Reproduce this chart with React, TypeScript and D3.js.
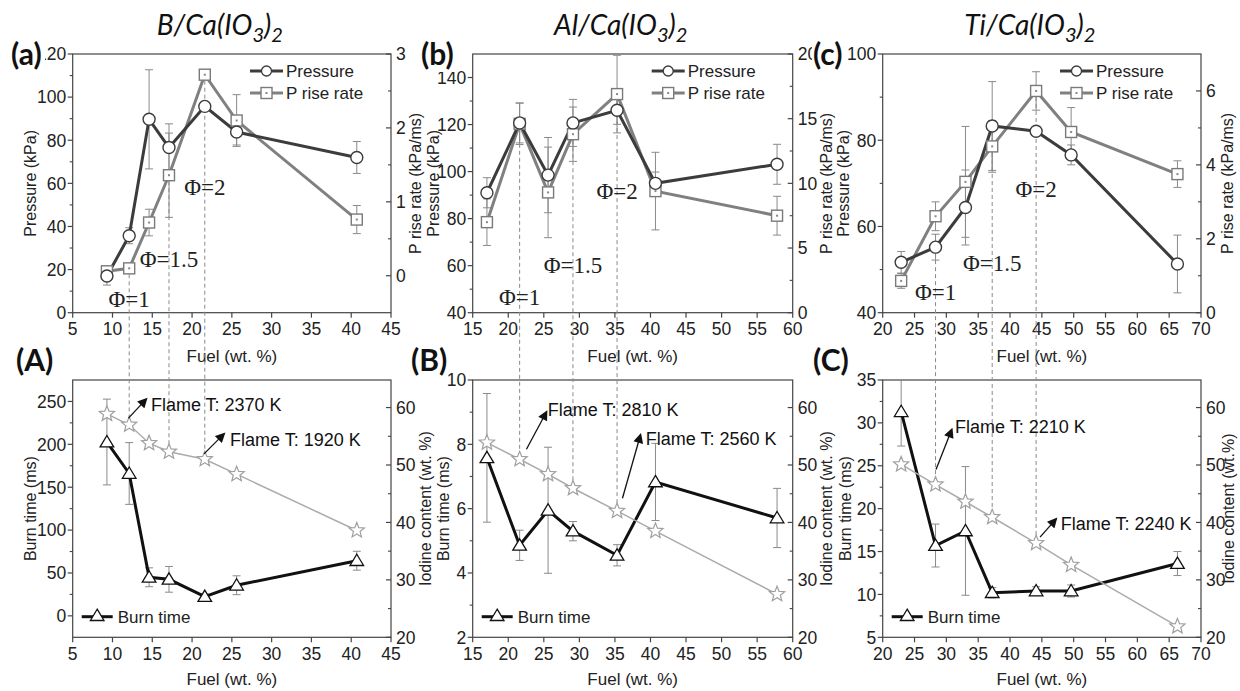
import React from "react";
import * as d3 from "d3";

// ---------------- DATA ----------------
// B/Ca(IO3)2
const bFuel = [9.3, 12.1, 14.6, 17.1, 21.6, 25.6, 40.7];
const bPressure = [17, 35.7, 89.7, 76.6, 95.7, 83.8, 72];
const bPressureErr = [4.2, 3.7, 23, 11, 2, 6, 7.4];
const bRate = [0.06, 0.1, 0.72, 1.36, 2.72, 2.1, 0.76];
const bRateErr = [0.05, 0.05, 0.18, 0.57, 0.03, 0.35, 0.19];
const bBurn = [202.7, 166, 45, 42.6, 22.5, 35.7, 64.3];
const bBurnErr = [50, 36, 11, 15, 3, 11, 11];
const bIodine = [58.9, 57.0, 53.8, 52.3, 51.0, 48.4, 38.6];

// Al/Ca(IO3)2
const alFuel = [17, 21.6, 25.6, 29.1, 35.3, 40.7, 57.8];
const alPressure = [91, 120.7, 98.5, 120.7, 126.1, 95, 103.1];
const alPressureErr = [6.4, 8.5, 16, 10, 6, 4.8, 8.5];
const alRate = [7.0, 14.6, 9.3, 13.8, 16.9, 9.4, 7.5];
const alRateErr = [1.8, 1.6, 3.5, 2.1, 3, 3, 1.5];
const alBurn = [7.58, 4.86, 5.95, 5.3, 4.55, 6.83, 5.71];
const alBurnErr = [2, 0.47, 1.96, 0.3, 0.33, 1.2, 0.92];
const alIodine = [53.9, 51.0, 48.4, 45.95, 42.0, 38.5, 27.5];

// Ti/Ca(IO3)2
const tiFuel = [22.9, 28.3, 33.0, 37.2, 44.1, 49.6, 66.3];
const tiPressure = [51.7, 55.2, 64.4, 83.3, 82.1, 76.6, 51.3];
const tiPressureErr = [2.5, 3, 8.7, 10.3, 1, 2.3, 6.7];
const tiRate = [0.86, 2.61, 3.54, 4.5, 6.0, 4.89, 3.75];
const tiRateErr = [0.2, 0.39, 1.5, 0.7, 0.52, 0.66, 0.36];
const tiBurn = [31.3, 15.7, 17.4, 10.2, 10.4, 10.4, 13.6];
const tiBurnErr = [4, 2.5, 7.5, 0.6, 0.5, 0.7, 1.4];
const tiIodine = [50.1, 46.6, 43.6, 40.9, 36.4, 32.6, 21.9];

// Equivalence-ratio markers (fuel wt.% of the dashed guide lines)
const bPhi = [
  { fuel: 12.1, label: "Φ=1", from: "rate", labelP: 2.6 },
  { fuel: 17.1, label: "Φ=1.5", from: "rate", labelP: 21.1 },
  { fuel: 21.6, label: "Φ=2", from: "rate", labelP: 54.8 },
];
const alPhi = [
  { fuel: 21.6, label: "Φ=1", from: "rate", labelP: 43.3 },
  { fuel: 29.1, label: "Φ=1.5", from: "rate", labelP: 56.9 },
  { fuel: 35.3, label: "Φ=2", from: "rate", labelP: 88.3 },
];
const tiPhi = [
  { fuel: 28.3, label: "Φ=1", from: "pressure", labelP: 42.9 },
  { fuel: 37.2, label: "Φ=1.5", from: "pressure", labelP: 49.7 },
  { fuel: 44.1, label: "Φ=2", from: "rate", labelP: 66.9 },
];

// Flame temperature annotations (attached to iodine points)
const bFlames = [
  { idx: 1, text: "Flame T: 2370 K", s: [-0.7, -6.7], t: [17, -25.7], l: [21.7, -20] },
  { idx: 4, text: "Flame T: 1920 K", s: [-0.8, -5.4], t: [19.2, -25.4], l: [25.2, -19.7] },
];
const alFlames = [
  { idx: 1, text: "Flame T: 2810 K", s: [6.8, -10], t: [26.8, -47.3], l: [28.1, -50] },
  { idx: 4, text: "Flame T: 2560 K", s: [5.4, -12.7], t: [23.4, -76], l: [28.7, -72] },
];
const tiFlames = [
  { idx: 1, text: "Flame T: 2210 K", s: [0.5, -15], t: [16.2, -55], l: [19.5, -58] },
  { idx: 4, text: "Flame T: 2240 K", s: [3.9, -6], t: [19.9, -24], l: [24.6, -19.3] },
];

// ---------------- LAYOUT ----------------
const W = 1240;
const H = 691;
const TOP = { y0: 54, y1: 312.7 };
const BOT = { y0: 380, y1: 637.3 };
const FONT = "'Liberation Sans', Arial, Helvetica, sans-serif";
const TICK_FS = 17.5;
const FRAME = "#444";

const systems = [
  {
    el: "B", labels: ["(a)", "(A)"], x0: 72.7, x1: 391,
    fuel: bFuel, pressure: bPressure, pressureErr: bPressureErr, rate: bRate, rateErr: bRateErr,
    burn: bBurn, burnErr: bBurnErr, iodine: bIodine, phi: bPhi, flames: bFlames,
    xDomain: [5, 45], xTicks: d3.range(5, 46, 5),
    pDomain: [0, 120], pTicks: d3.range(0, 121, 20), pMinor: d3.range(10, 120, 20),
    rDomain: [-0.5, 3], rTicks: [0, 1, 2, 3], rMinor: [0.5, 1.5, 2.5],
    bDomain: [-25, 275], bTicks: d3.range(0, 251, 50), bMinor: d3.range(25, 275, 50),
    topL: 42.7, topR: 24, botL: 42.7, botR: 34, iodineTitle: "Iodine content (wt. %)",
  },
  {
    el: "Al", labels: ["(b)", "(B)"], x0: 472.7, x1: 792.7,
    fuel: alFuel, pressure: alPressure, pressureErr: alPressureErr, rate: alRate, rateErr: alRateErr,
    burn: alBurn, burnErr: alBurnErr, iodine: alIodine, phi: alPhi, flames: alFlames,
    xDomain: [15, 60], xTicks: d3.range(15, 61, 5),
    pDomain: [40, 150], pTicks: d3.range(40, 141, 20), pMinor: d3.range(50, 150, 20),
    rDomain: [0, 20], rTicks: [0, 5, 10, 15, 20], rMinor: [2.5, 7.5, 12.5, 17.5],
    bDomain: [2, 10], bTicks: [2, 4, 6, 8, 10], bMinor: [3, 5, 7, 9],
    topL: 39.7, topR: 34, botL: 29, botR: 34, iodineTitle: "Iodine content (wt. %)",
  },
  {
    el: "Ti", labels: ["(c)", "(C)"], x0: 882.7, x1: 1201,
    fuel: tiFuel, pressure: tiPressure, pressureErr: tiPressureErr, rate: tiRate, rateErr: tiRateErr,
    burn: tiBurn, burnErr: tiBurnErr, iodine: tiIodine, phi: tiPhi, flames: tiFlames,
    xDomain: [20, 70], xTicks: d3.range(20, 71, 5),
    pDomain: [40, 100], pTicks: [40, 60, 80, 100], pMinor: [50, 70, 90],
    rDomain: [0, 7], rTicks: [0, 2, 4, 6], rMinor: [1, 3, 5],
    bDomain: [5, 35], bTicks: d3.range(5, 36, 5), bMinor: d3.range(7.5, 35, 5),
    topL: 39.4, topR: 26, botL: 37.7, botR: 27, iodineTitle: "Iodine content (wt.%)",
  },
];

const iDomain = [20, 64.8];
const iTicks = [20, 30, 40, 50, 60];
const iMinor = [25, 35, 45, 55];

// ---------------- HELPERS ----------------
function starPath(R: number, r: number) {
  let d = "";
  for (let i = 0; i < 10; i++) {
    const a = -Math.PI / 2 + (i * Math.PI) / 5;
    const rad = i % 2 === 0 ? R : r;
    d += (i === 0 ? "M" : "L") + (rad * Math.cos(a)).toFixed(2) + "," + (rad * Math.sin(a)).toFixed(2);
  }
  return d + "Z";
}
const STAR = starPath(8, 3.5);
const TRI = "M0,-6.5L6.8,4.8L-6.8,4.8Z";

function YAxis({ scale, x, side, ticks, minor }: any) {
  // left axis: ticks outward; right axis: ticks inward
  const labDir = side === "left" ? -1 : 1;
  const tickDir = -1;
  const labOff = side === "left" ? 6.5 : 5;
  return (
    <g>
      {ticks.map((t: number) => (
        <g key={"M" + t}>
          <line x1={x} x2={x + tickDir * 5} y1={scale(t)} y2={scale(t)} stroke={FRAME} strokeWidth={1.2} />
          <text
            x={x + labDir * labOff}
            y={scale(t)}
            dy="0.36em"
            textAnchor={side === "left" ? "end" : "start"}
            fontSize={TICK_FS}
            fill="#222"
          >
            {t}
          </text>
        </g>
      ))}
      {minor.map((t: number) => (
        <line key={"m" + t} x1={x} x2={x + tickDir * 3} y1={scale(t)} y2={scale(t)} stroke={FRAME} strokeWidth={1.1} />
      ))}
    </g>
  );
}

function XAxis({ scale, y, ticks }: any) {
  return (
    <g>
      {ticks.map((t: number) => (
        <g key={t}>
          <line x1={scale(t)} x2={scale(t)} y1={y} y2={y + 5} stroke={FRAME} strokeWidth={1.2} />
          <text x={scale(t)} y={y + 22.5} textAnchor="middle" fontSize={TICK_FS} fill="#222">
            {t}
          </text>
        </g>
      ))}
    </g>
  );
}

function ErrBars({ xs, ys, es, x, y, color, clip }: any) {
  return (
    <g stroke={color} strokeWidth={1} clipPath={clip}>
      {xs.map((xv: number, i: number) => {
        const cx = x(xv);
        const yt = y(ys[i] + es[i]);
        const yb = y(ys[i] - es[i]);
        return (
          <g key={i}>
            <line x1={cx} x2={cx} y1={yt} y2={yb} />
            <line x1={cx - 4} x2={cx + 4} y1={yt} y2={yt} />
            <line x1={cx - 4} x2={cx + 4} y1={yb} y2={yb} />
          </g>
        );
      })}
    </g>
  );
}

function SquareMark({ cx, cy }: any) {
  return (
    <g>
      <rect x={cx - 5.5} y={cy - 5.5} width={11} height={11} fill="#fff" stroke="#7a7a7a" strokeWidth={1.4} />
      <rect x={cx - 1} y={cy - 1} width={2} height={2} fill="#888" />
    </g>
  );
}

function Title({ el, cx }: { el: string; cx: number }) {
  return (
    <text x={cx} y={35} textAnchor="middle" fontFamily="Lato, 'Open Sans', sans-serif" fontStyle="italic" fontSize={28} fill="#111">
      <tspan>{el}/Ca(IO</tspan>
      <tspan dy={7} fontSize={20}>3</tspan>
      <tspan dy={-7}>)</tspan>
      <tspan dy={7} fontSize={20}>2</tspan>
    </text>
  );
}

function PanelLabel({ text, x, y }: any) {
  return (
    <g>
      <rect x={x - 1} y={y - 23} width={35} height={30} fill="#fff" />
      <text x={x} y={y} fontFamily="Lato, 'Open Sans', sans-serif" fontWeight="bold" fontSize={30} fill="#111">
        {text}
      </text>
    </g>
  );
}

function System({ s, i }: any) {
  const x = d3.scaleLinear().domain(s.xDomain).range([s.x0, s.x1]);
  const yP = d3.scaleLinear().domain(s.pDomain).range([TOP.y1, TOP.y0]);
  const yR = d3.scaleLinear().domain(s.rDomain).range([TOP.y1, TOP.y0]);
  const yB = d3.scaleLinear().domain(s.bDomain).range([BOT.y1, BOT.y0]);
  const yI = d3.scaleLinear().domain(iDomain).range([BOT.y1, BOT.y0]);
  const idx = d3.range(s.fuel.length);

  const pLine = d3.line<number>().x((k) => x(s.fuel[k])).y((k) => yP(s.pressure[k]));
  const rLine = d3.line<number>().x((k) => x(s.fuel[k])).y((k) => yR(s.rate[k]));
  const bLine = d3.line<number>().x((k) => x(s.fuel[k])).y((k) => yB(s.burn[k]));
  const iLine = d3.line<number>().x((k) => x(s.fuel[k])).y((k) => yI(s.iodine[k]));

  const cxMid = (s.x0 + s.x1) / 2;
  const topMid = (TOP.y0 + TOP.y1) / 2;
  const botMid = (BOT.y0 + BOT.y1) / 2;
  const clipTop = `clipTop${i}`;
  const clipBot = `clipBot${i}`;

  const valueAt = (xs: number[], ys: number[], v: number) => ys[xs.indexOf(v)];

  return (
    <g>
      <defs>
        <clipPath id={clipTop}>
          <rect x={s.x0} y={TOP.y0} width={s.x1 - s.x0} height={TOP.y1 - TOP.y0} />
        </clipPath>
        <clipPath id={clipBot}>
          <rect x={s.x0} y={BOT.y0} width={s.x1 - s.x0} height={BOT.y1 - BOT.y0} />
        </clipPath>
      </defs>

      <Title el={s.el} cx={cxMid - 12} />

      {/* ---------- TOP PANEL ---------- */}
      <rect x={s.x0} y={TOP.y0} width={s.x1 - s.x0} height={TOP.y1 - TOP.y0} fill="none" stroke={FRAME} strokeWidth={1.2} />
      <YAxis scale={yP} x={s.x0} side="left" ticks={s.pTicks} minor={s.pMinor} />
      <YAxis scale={yR} x={s.x1} side="right" ticks={s.rTicks} minor={s.rMinor} />
      <XAxis scale={x} y={TOP.y1} ticks={s.xTicks} />
      <text transform={`translate(${s.x0 - s.topL},${topMid}) rotate(-90)`} dy="0.35em" textAnchor="middle" fontSize={16} fill="#222">
        Pressure (kPa)
      </text>
      <text transform={`translate(${s.x1 + s.topR},${topMid}) rotate(-90)`} dy="0.35em" textAnchor="middle" fontSize={16} fill="#222">
        P rise rate (kPa/ms)
      </text>
      <text x={cxMid} y={TOP.y1 + 49} textAnchor="middle" fontSize={17} fill="#222">
        Fuel (wt. %)
      </text>

      <ErrBars xs={s.fuel} ys={s.rate} es={s.rateErr} x={x} y={yR} color="#8a8a8a" clip={`url(#${clipTop})`} />
      <ErrBars xs={s.fuel} ys={s.pressure} es={s.pressureErr} x={x} y={yP} color="#8a8a8a" clip={`url(#${clipTop})`} />
      <path d={rLine(idx) || ""} fill="none" stroke="#808080" strokeWidth={3} />
      <path d={pLine(idx) || ""} fill="none" stroke="#3c3c3c" strokeWidth={3} />

      {/* ---------- BOTTOM PANEL ---------- */}
      <rect x={s.x0} y={BOT.y0} width={s.x1 - s.x0} height={BOT.y1 - BOT.y0} fill="none" stroke={FRAME} strokeWidth={1.2} />
      <YAxis scale={yB} x={s.x0} side="left" ticks={s.bTicks} minor={s.bMinor} />
      <YAxis scale={yI} x={s.x1} side="right" ticks={iTicks} minor={iMinor} />
      <XAxis scale={x} y={BOT.y1} ticks={s.xTicks} />
      <text transform={`translate(${s.x0 - s.botL},${botMid}) rotate(-90)`} dy="0.35em" textAnchor="middle" fontSize={16} fill="#222">
        Burn time (ms)
      </text>
      <text transform={`translate(${s.x1 + s.botR},${botMid}) rotate(-90)`} dy="0.35em" textAnchor="middle" fontSize={16} fill="#222">
        {s.iodineTitle}
      </text>
      <text x={cxMid} y={BOT.y1 + 48} textAnchor="middle" fontSize={17} fill="#222">
        Fuel (wt. %)
      </text>

      <ErrBars xs={s.fuel} ys={s.burn} es={s.burnErr} x={x} y={yB} color="#8a8a8a" clip={`url(#${clipBot})`} />
      <path d={bLine(idx) || ""} fill="none" stroke="#111" strokeWidth={3} />
      <path d={iLine(idx) || ""} fill="none" stroke="#ababab" strokeWidth={1.5} />

      {/* dashed guide lines */}
      {s.phi.map((p: any, k: number) => {
        const yTop = p.from === "rate" ? yR(valueAt(s.fuel, s.rate, p.fuel)) : yP(valueAt(s.fuel, s.pressure, p.fuel));
        const yBot = yI(valueAt(s.fuel, s.iodine, p.fuel));
        return (
          <line key={k} x1={x(p.fuel)} x2={x(p.fuel)} y1={yTop + 6} y2={yBot - 8} stroke="#8a8a8a" strokeWidth={1} strokeDasharray="4,3" />
        );
      })}
      {s.phi.map((p: any, k: number) => (
        <text key={"t" + k} x={x(p.fuel)} y={yP(p.labelP)} textAnchor="middle" fontFamily="'Liberation Serif', 'Times New Roman', serif" fontSize={23} fill="#222">
          {p.label}
        </text>
      ))}

      {/* markers top */}
      {idx.map((k: number) => (
        <SquareMark key={"sq" + k} cx={x(s.fuel[k])} cy={yR(s.rate[k])} />
      ))}
      {idx.map((k: number) => (
        <circle key={"c" + k} cx={x(s.fuel[k])} cy={yP(s.pressure[k])} r={6} fill="#fff" stroke="#3c3c3c" strokeWidth={1.4} />
      ))}

      {/* markers bottom */}
      {idx.map((k: number) => (
        <path key={"tr" + k} d={TRI} transform={`translate(${x(s.fuel[k])},${yB(s.burn[k])})`} fill="#fff" stroke="#111" strokeWidth={1.3} />
      ))}
      {idx.map((k: number) => (
        <path key={"st" + k} d={STAR} transform={`translate(${x(s.fuel[k])},${yI(s.iodine[k])})`} fill="#fff" stroke="#a0a0a0" strokeWidth={1.2} />
      ))}

      {/* flame annotations */}
      {s.flames.map((f: any, k: number) => {
        const px = x(s.fuel[f.idx]);
        const py = yI(s.iodine[f.idx]);
        return (
          <g key={"f" + k}>
            <line x1={px + f.s[0]} y1={py + f.s[1]} x2={px + f.t[0]} y2={py + f.t[1]} stroke="#111" strokeWidth={1.3} markerEnd="url(#arrowHead)" />
            <text x={px + f.l[0]} y={py + f.l[1]} dy="0.35em" fontSize={18} fill="#111">
              {f.text}
            </text>
          </g>
        );
      })}

      {/* legends */}
      <g>
        <line x1={s.x1 - 141} x2={s.x1 - 108} y1={TOP.y0 + 17} y2={TOP.y0 + 17} stroke="#3c3c3c" strokeWidth={3} />
        <circle cx={s.x1 - 124.5} cy={TOP.y0 + 17} r={5} fill="#fff" stroke="#3c3c3c" strokeWidth={1.3} />
        <text x={s.x1 - 105} y={TOP.y0 + 17} dy="0.36em" fontSize={17} fill="#222">Pressure</text>
        <line x1={s.x1 - 141} x2={s.x1 - 108} y1={TOP.y0 + 39} y2={TOP.y0 + 39} stroke="#808080" strokeWidth={3} />
        <SquareMark cx={s.x1 - 124.5} cy={TOP.y0 + 39} />
        <text x={s.x1 - 105} y={TOP.y0 + 39} dy="0.36em" fontSize={17} fill="#222">P rise rate</text>
      </g>
      <g>
        <line x1={s.x0 + 9} x2={s.x0 + 40} y1={BOT.y1 - 20.6} y2={BOT.y1 - 20.6} stroke="#111" strokeWidth={3} />
        <path d={TRI} transform={`translate(${s.x0 + 24.5},${BOT.y1 - 21.6})`} fill="#fff" stroke="#111" strokeWidth={1.3} />
        <text x={s.x0 + 45} y={BOT.y1 - 20.6} dy="0.36em" fontSize={17} fill="#222">Burn time</text>
      </g>
    </g>
  );
}

export default function App() {
  const labelPos = [
    [11, 65, 16, 371],
    [421, 65, 411, 371],
    [813, 65, 813, 371],
  ];
  return (
    <svg
      width={W}
      height={H}
      viewBox={`0 0 ${W} ${H}`}
      style={{ position: "absolute", left: 0, top: 0, background: "#fff" }}
      fontFamily={FONT}
    >
      <defs>
        <marker id="arrowHead" viewBox="0 0 10 10" refX={8} refY={5} markerWidth={11} markerHeight={10} markerUnits="userSpaceOnUse" orient="auto">
          <path d="M0,0L10,5L0,10Z" fill="#111" />
        </marker>
      </defs>
      <rect x={0} y={0} width={W} height={H} fill="#fff" />
      {systems.map((s, i) => (
        <System key={i} s={s} i={i} />
      ))}
      {systems.map((s, i) => (
        <g key={"lab" + i}>
          <PanelLabel text={s.labels[0]} x={labelPos[i][0]} y={labelPos[i][1]} />
          <PanelLabel text={s.labels[1]} x={labelPos[i][2]} y={labelPos[i][3]} />
        </g>
      ))}
    </svg>
  );
}
